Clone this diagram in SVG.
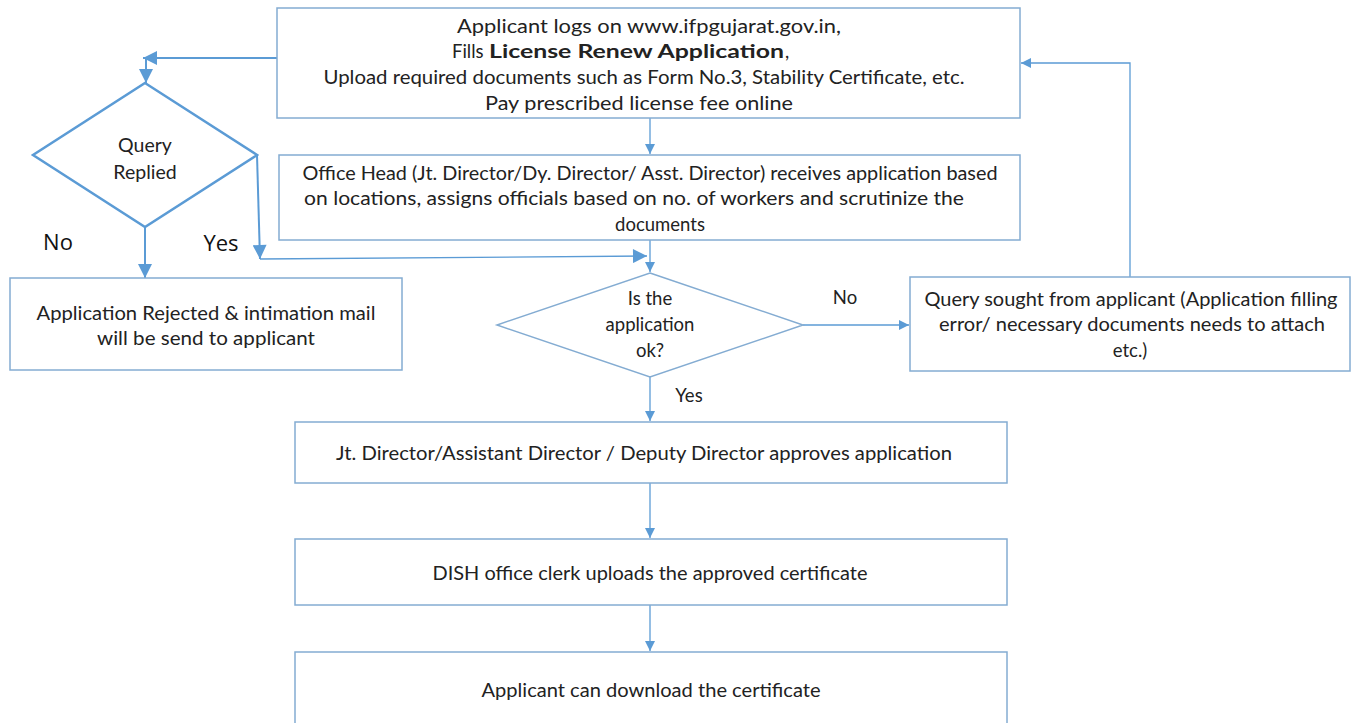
<svg xmlns="http://www.w3.org/2000/svg" width="1359" height="723" viewBox="0 0 1359 723">
<style>
.box{fill:#fff;stroke:#84acd2;stroke-width:1.5}
.dia{fill:#fff;stroke:#84acd2;stroke-width:1.5}
.dia2{fill:#fff;stroke:#5b9bd5;stroke-width:2.5}
.t{font-family:Lato,"Open Sans","Liberation Sans",sans-serif;font-size:18.5px;fill:#222;text-anchor:middle}
.b{font-weight:bold}
.q{font-size:19.5px}
.big{font-family:"Open Sans","Liberation Sans",sans-serif;font-size:22px;fill:#111;text-anchor:middle}
.c{fill:none;stroke:#5b9bd5;stroke-width:1.3}
.c2{fill:none;stroke:#5b9bd5;stroke-width:2}
</style>
<defs>
<marker id="a" viewBox="0 0 10 10" refX="10" refY="5" markerWidth="10" markerHeight="10" markerUnits="userSpaceOnUse" orient="auto"><path d="M0,0 L10,5 L0,10 z" fill="#5b9bd5"/></marker>
<marker id="A" viewBox="0 0 10 10" refX="10" refY="5" markerWidth="16" markerHeight="14" markerUnits="userSpaceOnUse" orient="auto"><path d="M0,0 L10,5 L0,10 z" fill="#5b9bd5"/></marker>
</defs>
<rect width="1359" height="723" fill="#fff"/>
<g id="connectors">
<path class="c" d="M650,118 V154" marker-end="url(#a)"/>
<path class="c" d="M650,240 V272" marker-end="url(#a)"/>
<path class="c" d="M803,325 H909" marker-end="url(#a)"/>
<path class="c" d="M1130,277 V63 H1021" marker-end="url(#a)"/>
<path class="c" d="M650,377 V421" marker-end="url(#a)"/>
<path class="c" d="M650,483 V538" marker-end="url(#a)"/>
<path class="c" d="M650,605 V651" marker-end="url(#a)"/>
<path class="c2" d="M277,58 H143" marker-end="url(#A)"/>
<path class="c2" d="M146,58 V83" marker-end="url(#A)"/>
<path class="c2" d="M145,227 V278" marker-end="url(#A)"/>
<path class="c2" d="M257,155 L260,259" marker-end="url(#A)"/>
<path class="c" d="M260,259 L647,256" marker-end="url(#A)"/>
</g>
<g id="n1">
<rect class="box" x="277" y="8" width="743" height="110"/>
<text class="t" x="649" y="33" textLength="384" lengthAdjust="spacingAndGlyphs">Applicant logs on www.ifpgujarat.gov.in,</text>
<text class="t" x="452" y="58" style="text-anchor:start">Fills</text>
<text class="t b" x="489" y="58" style="text-anchor:start" textLength="295" lengthAdjust="spacingAndGlyphs">License Renew Application</text>
<text class="t" x="785" y="58" style="text-anchor:start">,</text>
<text class="t" x="644" y="84" textLength="641" lengthAdjust="spacingAndGlyphs">Upload required documents such as Form No.3, Stability Certificate, etc.</text>
<text class="t" x="639" y="110" textLength="308" lengthAdjust="spacingAndGlyphs">Pay prescribed license fee online</text>
</g>
<g id="n2">
<rect class="box" x="279" y="155" width="741" height="85"/>
<text class="t" x="650" y="180" textLength="695" lengthAdjust="spacingAndGlyphs">Office Head (Jt. Director/Dy. Director/ Asst. Director) receives application based</text>
<text class="t" x="634" y="205" textLength="660" lengthAdjust="spacingAndGlyphs">on locations, assigns officials based on no. of workers and scrutinize the</text>
<text class="t" x="660" y="231">documents</text>
</g>
<g id="n3">
<polygon class="dia" points="650,273 803,325 650,377 497,325"/>
<text class="t" x="650" y="305">Is the</text>
<text class="t" x="650" y="331">application</text>
<text class="t" x="650" y="357">ok?</text>
<text class="t" x="845" y="304">No</text>
<text class="t" x="689" y="402">Yes</text>
</g>
<g id="n4">
<rect class="box" x="910" y="277" width="440" height="94"/>
<text class="t" x="1131" y="306" textLength="413" lengthAdjust="spacingAndGlyphs">Query sought from applicant (Application filling</text>
<text class="t" x="1132" y="331" textLength="386" lengthAdjust="spacingAndGlyphs">error/ necessary documents needs to attach</text>
<text class="t" x="1130" y="357">etc.)</text>
</g>
<g id="n5">
<polygon class="dia2" points="145,83 257,155 145,227 33,155"/>
<text class="t q" x="145" y="152">Query</text>
<text class="t q" x="145" y="179">Replied</text>
<text class="big" x="58" y="250">No</text>
<text class="big" x="221" y="251">Yes</text>
</g>
<g id="n6">
<rect class="box" x="10" y="278" width="392" height="92"/>
<text class="t" x="206" y="320" textLength="339" lengthAdjust="spacingAndGlyphs">Application Rejected &amp; intimation mail</text>
<text class="t" x="206" y="345" textLength="218" lengthAdjust="spacingAndGlyphs">will be send to  applicant</text>
</g>
<g id="n7">
<rect class="box" x="295" y="422" width="712" height="61"/>
<text class="t" x="644" y="460" textLength="616" lengthAdjust="spacingAndGlyphs">Jt. Director/Assistant Director / Deputy Director approves application</text>
</g>
<g id="n8">
<rect class="box" x="295" y="539" width="712" height="66"/>
<text class="t" x="650" y="580" textLength="435" lengthAdjust="spacingAndGlyphs">DISH office clerk uploads the approved certificate</text>
</g>
<g id="n9">
<rect class="box" x="295" y="652" width="712" height="75"/>
<text class="t" x="651" y="697" textLength="339" lengthAdjust="spacingAndGlyphs">Applicant can download the certificate</text>
</g>
</svg>
